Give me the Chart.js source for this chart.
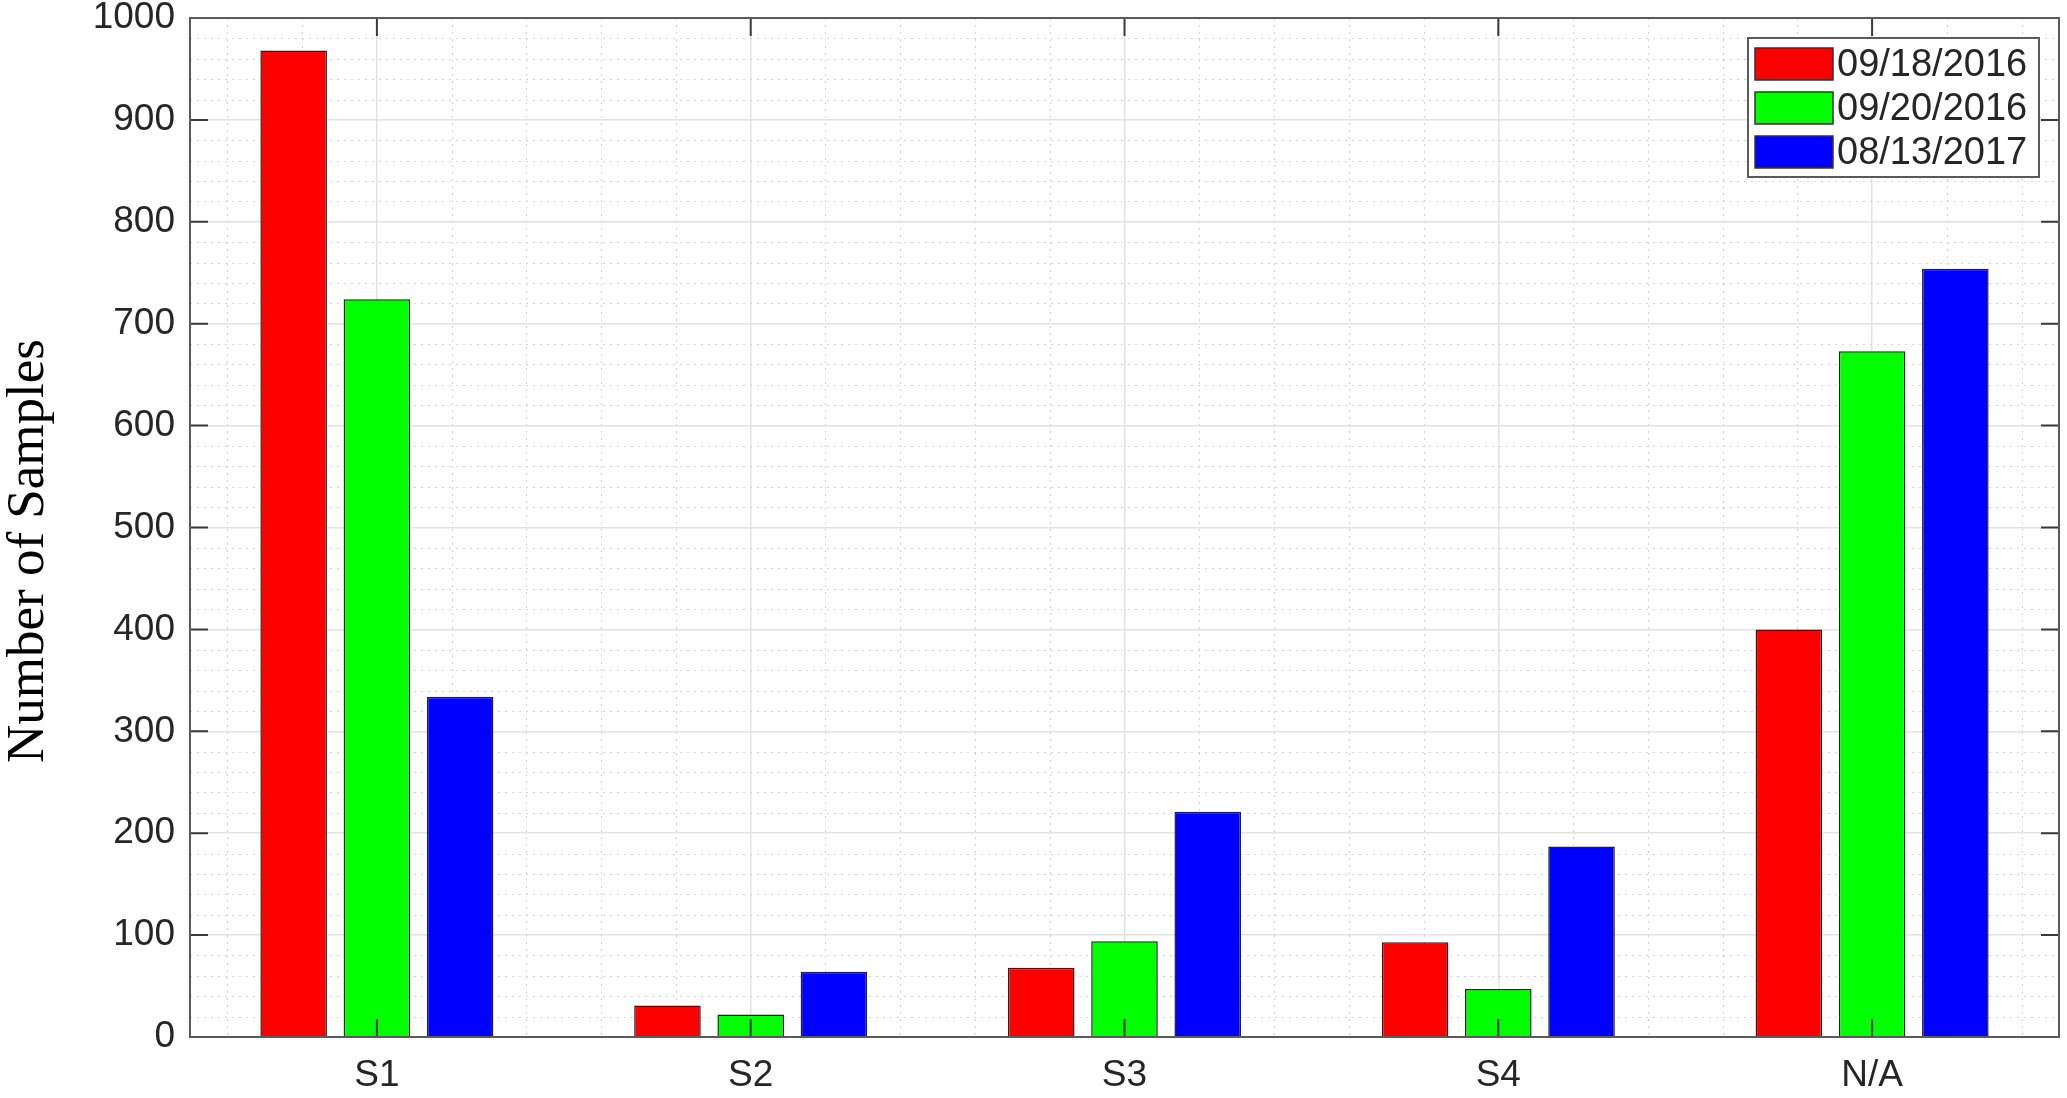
<!DOCTYPE html>
<html>
<head>
<meta charset="utf-8">
<title>Number of Samples</title>
<script src="https://cdn.jsdelivr.net/npm/chart.js@4.4.0/dist/chart.umd.min.js"></script>
<style>
  html, body { margin: 0; padding: 0; background: #fff; }
  canvas { display: block; }
</style>
</head>
<body>
<canvas id="samplesChart" width="2067" height="1098"></canvas>
<script>
// categories and series
var categories = ['S1', 'S2', 'S3', 'S4', 'N/A'];
var seriesNames = ['09/18/2016', '09/20/2016', '08/13/2017'];
var sep2016a = [968, 31, 68, 93, 400];
var sep2016b = [724, 22, 94, 47, 673];
var aug2017 = [334, 64, 221, 187, 754];
var seriesColors = ['#ff0000', '#00ff00', '#0000ff'];
var yTicks = [0, 100, 200, 300, 400, 500, 600, 700, 800, 900, 1000];
var yLabel = 'Number of Samples';

var tickFont = { family: 'Liberation Sans, Arial, Helvetica, sans-serif', size: 37 };
var textColor = '#262626';

// matlab style box, minor grid, inward ticks, legend, ylabel
var matlabAxes = {
    id: 'matlabAxes',
    beforeDatasetsDraw: function(chart) {
        var ctx = chart.ctx, a = chart.chartArea;
        var x = chart.scales.x, y = chart.scales.y;
        ctx.save();
        ctx.strokeStyle = '#d4d4d4';
        ctx.lineWidth = 1.2;
        ctx.setLineDash([2, 5]);
        // minor horizontal, every 20
        for (var v = 20; v < 1000; v += 20) {
            if (v % 100 === 0) continue;
            var py = Math.round(y.getPixelForValue(v)) + 0.5;
            ctx.beginPath();
            ctx.moveTo(a.left, py);
            ctx.lineTo(a.right, py);
            ctx.stroke();
        }
        // minor vertical, every 0.2 category
        for (var k = -2; k <= 22; k++) {
            if (k % 5 === 0) continue;
            var px = Math.round(x.getPixelForValue(k / 5)) + 0.5;
            if (px <= a.left || px >= a.right) continue;
            ctx.beginPath();
            ctx.moveTo(px, a.top);
            ctx.lineTo(px, a.bottom);
            ctx.stroke();
        }
        ctx.restore();
    },
    afterDatasetsDraw: function(chart) {
        var ctx = chart.ctx, a = chart.chartArea;
        var x = chart.scales.x, y = chart.scales.y;
        var tl = 18;
        ctx.save();
        ctx.setLineDash([]);
        ctx.strokeStyle = '#3a3a3a';
        ctx.lineWidth = 2;
        // inward ticks
        ctx.beginPath();
        yTicks.forEach(function(v) {
            var py = y.getPixelForValue(v);
            ctx.moveTo(a.left, py); ctx.lineTo(a.left + tl, py);
            ctx.moveTo(a.right, py); ctx.lineTo(a.right - tl, py);
        });
        categories.forEach(function(c, i) {
            var px = x.getPixelForValue(i);
            ctx.moveTo(px, a.bottom); ctx.lineTo(px, a.bottom - tl);
            ctx.moveTo(px, a.top); ctx.lineTo(px, a.top + tl);
        });
        ctx.stroke();
        // box
        ctx.strokeStyle = '#5a5a5a';
        ctx.strokeRect(a.left, a.top, a.right - a.left, a.bottom - a.top);

        // legend, top right inside axes
        var lx = a.right - 311, ly = a.top + 20, lw = 291, lh = 139;
        ctx.fillStyle = '#fff';
        ctx.fillRect(lx, ly, lw, lh);
        ctx.strokeStyle = '#5a5a5a';
        ctx.lineWidth = 2;
        ctx.strokeRect(lx, ly, lw, lh);
        ctx.font = '38px Liberation Sans, Arial, sans-serif';
        ctx.textBaseline = 'middle';
        ctx.textAlign = 'left';
        chart.data.datasets.forEach(function(ds, i) {
            var sy = ly + 10 + i * 44;
            ctx.fillStyle = ds.backgroundColor;
            ctx.fillRect(lx + 7, sy, 78, 32);
            ctx.strokeStyle = '#333';
            ctx.lineWidth = 1.5;
            ctx.strokeRect(lx + 7, sy, 78, 32);
            ctx.fillStyle = textColor;
            ctx.fillText(ds.label, lx + 89, sy + 18);
        });

        // y label, serif
        ctx.font = '53px Liberation Serif, Times New Roman, serif';
        ctx.fillStyle = '#000';
        ctx.textAlign = 'center';
        ctx.textBaseline = 'middle';
        ctx.translate(29, 551);
        ctx.rotate(-Math.PI / 2);
        ctx.fillText(yLabel, 0, 0);
        ctx.restore();
    }
};

var ctx = document.getElementById('samplesChart').getContext('2d');
var chart = new Chart(ctx, {
    type: 'bar',
    data: {
        labels: categories,
        datasets: [sep2016a, sep2016b, aug2017].map(function(vals, i) {
            return {
                label: seriesNames[i],
                data: vals,
                backgroundColor: seriesColors[i],
                borderColor: '#222',
                borderWidth: 1.5,
                categoryPercentage: 0.668,
                barPercentage: 0.8
            };
        })
    },
    options: {
        responsive: false,
        animation: false,
        devicePixelRatio: 1,
        layout: { padding: { top: 18, right: 8, left: 0, bottom: 0 } },
        plugins: {
            legend: { display: false },
            tooltip: { enabled: false }
        },
        scales: {
            x: {
                grid: { offset: false, color: '#e2e2e2', lineWidth: 1.5, drawTicks: false },
                border: { display: false },
                ticks: { font: tickFont, color: textColor, padding: 17 },
                afterFit: function(s) { s.height = 61; s.paddingLeft = 0; s.paddingRight = 0; }
            },
            y: {
                min: 0,
                max: 1000,
                afterBuildTicks: function(s) {
                    s.ticks = yTicks.map(function(v) { return { value: v }; });
                },
                grid: { color: '#e2e2e2', lineWidth: 1.5, drawTicks: false },
                border: { display: false },
                ticks: {
                    font: tickFont, color: textColor, padding: 15,
                    callback: function(v) { return String(v); }
                },
                afterFit: function(s) { s.width = 190; s.paddingTop = 0; s.paddingBottom = 0; }
            }
        }
    },
    plugins: [matlabAxes]
});
</script>
</body>
</html>
